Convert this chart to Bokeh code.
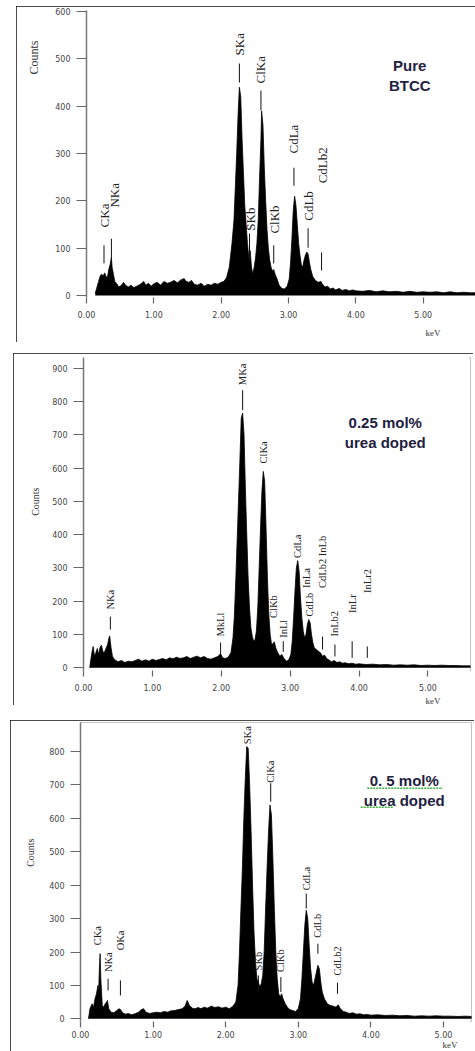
from math import pi
from bokeh.plotting import figure
from bokeh.layouts import column
from bokeh.models import ColumnDataSource, FixedTicker, NumeralTickFormatter, Label, Range1d, Title
from bokeh.core.properties import value
from bokeh.embed import file_html
from bokeh.resources import INLINE

NaN = float("nan")

# ---------------- Panel 1 : Pure BTCC ----------------
p1_energy = [0.13, 0.15, 0.18, 0.20, 0.22, 0.25, 0.27, 0.29, 0.31, 0.33, 0.35, 0.37, 0.38, 0.40, 0.42, 0.45,
             0.48, 0.52, 0.55, 0.58, 0.62, 0.66, 0.70, 0.75, 0.80, 0.85, 0.88, 0.92, 0.96, 1.00, 1.05, 1.10,
             1.15, 1.20, 1.25, 1.30, 1.35, 1.40, 1.45, 1.48, 1.52, 1.56, 1.60, 1.65, 1.70, 1.75, 1.80, 1.85,
             1.90, 1.95, 2.00, 2.04, 2.08, 2.12, 2.16, 2.19, 2.21, 2.23, 2.25, 2.27, 2.29, 2.31, 2.33, 2.35,
             2.37, 2.39, 2.41, 2.43, 2.45, 2.47, 2.49, 2.51, 2.53, 2.55, 2.57, 2.59, 2.60, 2.62, 2.64, 2.66,
             2.68, 2.70, 2.72, 2.74, 2.76, 2.78, 2.80, 2.83, 2.86, 2.90, 2.94, 2.98, 3.01, 3.03, 3.05, 3.07,
             3.09, 3.11, 3.13, 3.15, 3.17, 3.19, 3.21, 3.23, 3.25, 3.27, 3.29, 3.31, 3.33, 3.36, 3.40, 3.44,
             3.48, 3.50, 3.54, 3.58, 3.62, 3.66, 3.70, 3.75, 3.80, 3.85, 3.90, 3.95, 4.00, 4.10, 4.20, 4.30,
             4.40, 4.50, 4.60, 4.70, 4.80, 4.90, 5.00, 5.10, 5.20, 5.30, 5.40, 5.50, 5.60, 5.70, 5.80]
p1_counts = [5, 15, 30, 40, 45, 42, 48, 40, 38, 55, 65, 80, 60, 45, 30, 25,
             18, 22, 28, 22, 18, 22, 17, 20, 24, 30, 22, 26, 20, 25, 28, 22,
             30, 26, 28, 32, 27, 33, 36, 30, 28, 32, 24, 22, 26, 20, 24, 22,
             26, 24, 28, 30, 38, 60, 110, 160, 230, 300, 380, 440, 420, 330, 260, 190,
             150, 110, 80, 95, 60, 45, 60, 80, 110, 160, 250, 330, 390, 360, 270, 200,
             140, 100, 75, 60, 52, 55, 45, 35, 22, 15, 14, 20, 35, 70, 120, 180,
             210, 190, 150, 110, 85, 65, 60, 75, 85, 92, 88, 70, 55, 40, 32, 28,
             30, 25, 18, 20, 14, 16, 12, 15, 11, 13, 10, 12, 10, 9, 11, 8,
             10, 8, 9, 7, 9, 7, 8, 7, 8, 6, 8, 6, 7, 6, 6]
p1_peaks = ["CKa", "NKa", "SKa", "SKb", "ClKa", "ClKb", "CdLa", "CdLb", "CdLb2"]
p1_peak_energy = [0.26, 0.37, 2.27, 2.42, 2.59, 2.78, 3.08, 3.29, 3.49]
p1_text_energy = [0.26, 0.41, 2.27, 2.44, 2.59, 2.79, 3.08, 3.30, 3.50]
p1_text_base = [144, 186, 507, 137, 448, 131, 300, 158, 237]
p1_line_low = [68, 68, 450, 74, 391, 68, 232, 101, 53]
p1_line_high = [106, 120, 490, 131, 433, 106, 270, 142, 91]

# ---------------- Panel 2 : 0.25 mol% urea doped ----------------
p2_energy = [0.09, 0.11, 0.13, 0.14, 0.16, 0.18, 0.20, 0.22, 0.24, 0.26, 0.28, 0.30, 0.32, 0.35, 0.37, 0.38,
             0.40, 0.42, 0.45, 0.50, 0.55, 0.60, 0.65, 0.70, 0.75, 0.80, 0.85, 0.90, 0.95, 1.00, 1.05, 1.10,
             1.15, 1.20, 1.25, 1.30, 1.35, 1.40, 1.45, 1.50, 1.55, 1.60, 1.65, 1.70, 1.75, 1.80, 1.85, 1.90,
             1.95, 1.99, 2.02, 2.06, 2.10, 2.14, 2.17, 2.19, 2.21, 2.23, 2.25, 2.27, 2.29, 2.31, 2.33, 2.35,
             2.37, 2.39, 2.41, 2.43, 2.45, 2.47, 2.49, 2.51, 2.53, 2.55, 2.57, 2.59, 2.61, 2.63, 2.65, 2.67,
             2.69, 2.71, 2.73, 2.75, 2.77, 2.79, 2.82, 2.85, 2.88, 2.91, 2.95, 2.98, 3.01, 3.03, 3.05, 3.07,
             3.09, 3.11, 3.13, 3.15, 3.17, 3.19, 3.21, 3.23, 3.25, 3.27, 3.29, 3.31, 3.33, 3.35, 3.38, 3.41,
             3.44, 3.47, 3.50, 3.53, 3.56, 3.60, 3.64, 3.68, 3.72, 3.76, 3.80, 3.85, 3.90, 3.95, 4.00, 4.10,
             4.20, 4.30, 4.40, 4.50, 4.60, 4.70, 4.80, 4.90, 5.00, 5.10, 5.20, 5.30, 5.40, 5.50, 5.60, 5.70]
p2_counts = [0, 30, 55, 64, 35, 45, 58, 40, 62, 68, 50, 45, 55, 70, 90, 96,
             60, 35, 25, 18, 22, 16, 20, 18, 22, 26, 20, 24, 20, 26, 22, 25,
             28, 24, 30, 27, 32, 28, 30, 34, 28, 32, 35, 30, 34, 28, 26, 30,
             34, 42, 30, 28, 32, 45, 90, 155, 260, 380, 500, 620, 750, 765, 700, 540,
             400, 270, 180, 120, 95, 80, 85, 110, 180, 300, 420, 530, 590, 560, 420, 270,
             160, 100, 70, 72, 78, 60, 45, 35, 40, 28, 20, 24, 40, 80, 150, 230,
             300, 322, 290, 210, 150, 110, 90, 100, 130, 145, 135, 100, 75, 60, 55, 50,
             45, 35, 38, 28, 24, 18, 22, 16, 18, 14, 15, 12, 14, 11, 12, 10,
             11, 9, 10, 8, 9, 8, 9, 7, 8, 7, 8, 7, 7, 6, 6, 6]
p2_peaks = ["NKa", "MkLl", "MKa", "ClKa", "ClKb", "InLl", "CdLa", "InLa", "CdLb",
            "CdLb2 InLb", "InLb2", "InLr", "InLr2"]
p2_peak_energy = [0.39, 1.99, 2.31, 2.62, 2.76, 2.90, 3.10, 3.24, 3.28, 3.47, 3.65, 3.90, 4.12]
p2_text_base = [175, 94, 849, 614, 150, 90, 330, 240, 154, 240, 94, 165, 225]
p2_line_low = [115, 40, 774, NaN, NaN, 48, NaN, NaN, NaN, 55, 34, 30, 30]
p2_line_high = [154, 76, 834, NaN, NaN, 80, NaN, NaN, NaN, 94, 70, 80, 64]

# ---------------- Panel 3 : 0.5 mol% urea doped ----------------
p3_energy = [0.11, 0.13, 0.16, 0.18, 0.20, 0.22, 0.24, 0.25, 0.26, 0.27, 0.28, 0.30, 0.32, 0.34, 0.36, 0.37,
             0.39, 0.42, 0.46, 0.50, 0.53, 0.55, 0.58, 0.62, 0.66, 0.70, 0.75, 0.80, 0.84, 0.87, 0.90, 0.95,
             1.00, 1.05, 1.10, 1.15, 1.20, 1.25, 1.30, 1.35, 1.40, 1.44, 1.47, 1.50, 1.54, 1.58, 1.62, 1.66,
             1.70, 1.75, 1.80, 1.85, 1.90, 1.95, 2.00, 2.05, 2.10, 2.14, 2.17, 2.19, 2.21, 2.23, 2.25, 2.27,
             2.29, 2.31, 2.33, 2.35, 2.37, 2.39, 2.41, 2.43, 2.45, 2.47, 2.49, 2.51, 2.53, 2.55, 2.57, 2.59,
             2.61, 2.63, 2.65, 2.67, 2.69, 2.71, 2.73, 2.75, 2.77, 2.79, 2.82, 2.85, 2.88, 2.92, 2.96, 3.00,
             3.03, 3.05, 3.07, 3.09, 3.11, 3.13, 3.15, 3.17, 3.19, 3.21, 3.23, 3.25, 3.27, 3.29, 3.31, 3.33,
             3.36, 3.40, 3.44, 3.48, 3.52, 3.55, 3.58, 3.62, 3.66, 3.70, 3.75, 3.80, 3.85, 3.90, 3.95, 4.00,
             4.10, 4.20, 4.30, 4.40, 4.50, 4.60, 4.70, 4.80, 4.90, 5.00, 5.10, 5.20, 5.30, 5.40]
p3_counts = [0, 30, 45, 35, 60, 75, 100, 80, 150, 195, 120, 40, 35, 45, 50, 55,
             30, 20, 18, 25, 30, 28, 18, 14, 16, 12, 15, 20, 28, 30, 20, 16,
             18, 20, 18, 22, 20, 24, 25, 28, 30, 38, 55, 40, 32, 30, 34, 30,
             35, 32, 38, 34, 36, 32, 35, 30, 38, 50, 100, 200, 330, 450, 600, 720,
             815, 810, 700, 560, 400, 260, 170, 120, 110, 95, 105, 130, 200, 330, 450, 560,
             640, 610, 480, 330, 200, 120, 75, 65, 75, 60, 45, 35, 28, 25, 22, 30,
             60, 120, 200, 280, 325, 300, 220, 150, 110, 100, 120, 140, 160, 150, 110, 80,
             60, 45, 40, 38, 35, 42, 30, 22, 20, 16, 18, 14, 15, 12, 13, 11,
             12, 10, 11, 9, 10, 8, 9, 8, 9, 8, 8, 7, 8, 7]
p3_peaks = ["CKa", "NKa", "OKa", "SKa", "SKb", "ClKa", "ClKb", "CdLa", "CdLb", "CdLb2"]
p3_peak_energy = [0.23, 0.38, 0.55, 2.30, 2.45, 2.62, 2.76, 3.11, 3.27, 3.54]
p3_text_base = [220, 140, 205, 822, 145, 707, 140, 385, 243, 130]
p3_line_low = [NaN, 85, 70, NaN, 80, 650, 80, 330, 195, 75]
p3_line_high = [NaN, 120, 115, NaN, 130, 705, 125, 375, 225, 108]

kev_ticks = [0, 1, 2, 3, 4, 5, 6]
p1_yticks = [0, 100, 200, 300, 400, 500, 600]
p2_yticks = [0, 100, 200, 300, 400, 500, 600, 700, 800, 900]
p3_yticks = [0, 100, 200, 300, 400, 500, 600, 700, 800]

p1_caption = ["Pure", "BTCC"]
p2_caption = ["0.25 mol%", "urea doped"]
p3_caption = ["0. 5 mol%", "urea doped"]

SERIF = value("Liberation Serif")
CAPTION_COLOR = "#1e2140"


def make_panel(energy, counts, names, pe, te, tb, ll, lh, xr, yr, yticks, w, h, borders, margin,
               caption, cap_xy, peak_font, counts_font, counts_gap, counts_offset, kev_offset,
               kev_standoff, xlabel_standoff):
    p = figure(width=w, height=h, x_range=Range1d(*xr), y_range=Range1d(*yr),
               output_backend="svg", toolbar_location=None,
               min_border_left=borders[0], min_border_right=borders[1],
               min_border_top=borders[2], min_border_bottom=borders[3], margin=margin)
    p.grid.visible = False
    p.outline_line_color = None
    p.background_fill_color = "white"
    p.border_fill_color = "white"
    p.styles = {"outline": "4px solid #111111", "outline-offset": "-4px"}

    xa = p.xaxis[0]
    xa.ticker = FixedTicker(ticks=kev_ticks)
    xa.formatter = NumeralTickFormatter(format="0.00")
    xa.axis_line_color = None
    xa.major_tick_in = 0
    xa.major_tick_out = 6
    xa.minor_tick_line_color = None
    xa.major_tick_line_color = "#666666"
    xa.major_tick_line_width = 1.2
    xa.major_label_text_font = "DejaVu Sans"
    xa.major_label_text_font_size = "8px"
    xa.major_label_text_color = "#444444"
    xa.major_label_standoff = xlabel_standoff

    ya = p.yaxis[0]
    ya.ticker = FixedTicker(ticks=yticks)
    ya.axis_line_color = "#777777"
    ya.axis_line_width = 1.5
    ya.major_tick_in = 0
    ya.major_tick_out = 10
    ya.minor_tick_line_color = None
    ya.major_tick_line_color = "#666666"
    ya.major_tick_line_width = 1.2
    ya.major_label_text_font = "DejaVu Sans"
    ya.major_label_text_font_size = "8px"
    ya.major_label_text_color = "#444444"
    ya.major_label_standoff = 6
    # invisible spacer label: only reserves room between tick labels and the "Counts" title
    ya.axis_label = " "
    ya.axis_label_text_font_size = "1px"
    ya.axis_label_standoff = counts_gap

    p.varea(x=energy, y1=0, y2=counts, fill_color="black")
    p.line(x=energy, y=counts, line_color="black", line_width=0.8)

    src = ColumnDataSource(dict(e=pe, te=te, tb=tb, ll=ll, lh=lh, name=names))
    p.segment(x0="e", y0="ll", x1="e", y1="lh", source=src, line_color="#111111", line_width=1)
    p.text(x="te", y="tb", text="name", source=src, angle=pi / 2, text_align="left",
           text_baseline="middle", text_font=SERIF, text_font_size=peak_font, text_color="#222222")

    cx, cy0, cy1 = cap_xy
    for txt, cy in zip(caption, [cy0, cy1]):
        p.add_layout(Label(x=cx, y=cy, text=txt, text_align="center", text_baseline="middle",
                           text_font="Liberation Sans", text_font_style="bold",
                           text_font_size="15px", text_color=CAPTION_COLOR))

    p.add_layout(Title(text="Counts", align="right", offset=counts_offset, standoff=0,
                       text_font="Liberation Serif", text_font_size=counts_font,
                       text_font_style="normal", text_color="#333333"), "left")
    p.add_layout(Title(text="keV", align="right", offset=kev_offset, standoff=kev_standoff,
                       text_font="Liberation Serif", text_font_size="9px",
                       text_font_style="normal", text_color="#333333"), "below")
    return p


p1 = make_panel(p1_energy, p1_counts, p1_peaks, p1_peak_energy, p1_text_energy, p1_text_base,
                p1_line_low, p1_line_high,
                (0, 5.85), (-4, 602), p1_yticks, 467, 336, (62, 0, 4, 45), (6, 0, 0, 16),
                p1_caption, (4.80, 486, 444), "13px", "12px", 8, 30, 40, 10, 7)
p2 = make_panel(p2_energy, p2_counts, p2_peaks, p2_peak_energy, p2_peak_energy, p2_text_base,
                p2_line_low, p2_line_high,
                (0, 5.618), (-8, 932), p2_yticks, 460, 352, (57, 3, 4, 34), (11, 0, 0, 13),
                p2_caption, (4.38, 738, 678), "10.5px", "10px", 5, 130, 30, 0, 7)
p3 = make_panel(p3_energy, p3_counts, p3_peaks, p3_peak_energy, p3_peak_energy, p3_text_base,
                p3_line_low, p3_line_high,
                (0, 5.386), (-8, 887), p3_yticks, 464, 342, (70, 3, 2, 41), (15, 0, 0, 10),
                p3_caption, (4.46, 714, 654), "10.5px", "10px", 7, 116, 14, -6, 3)

# spell-check squiggles under the third caption, as in the reference
squiggle_x0 = [3.95, 3.86]
squiggle_x1 = [4.99, 4.31]
squiggle_y = [690, 633]
p3.segment(x0=squiggle_x0, y0=squiggle_y, x1=squiggle_x1, y1=squiggle_y,
           line_color="#3cb043", line_width=1.5, line_dash="2 1")

layout = column(p1, p2, p3, spacing=0)
open("out.html", "w").write(file_html(layout, INLINE))
